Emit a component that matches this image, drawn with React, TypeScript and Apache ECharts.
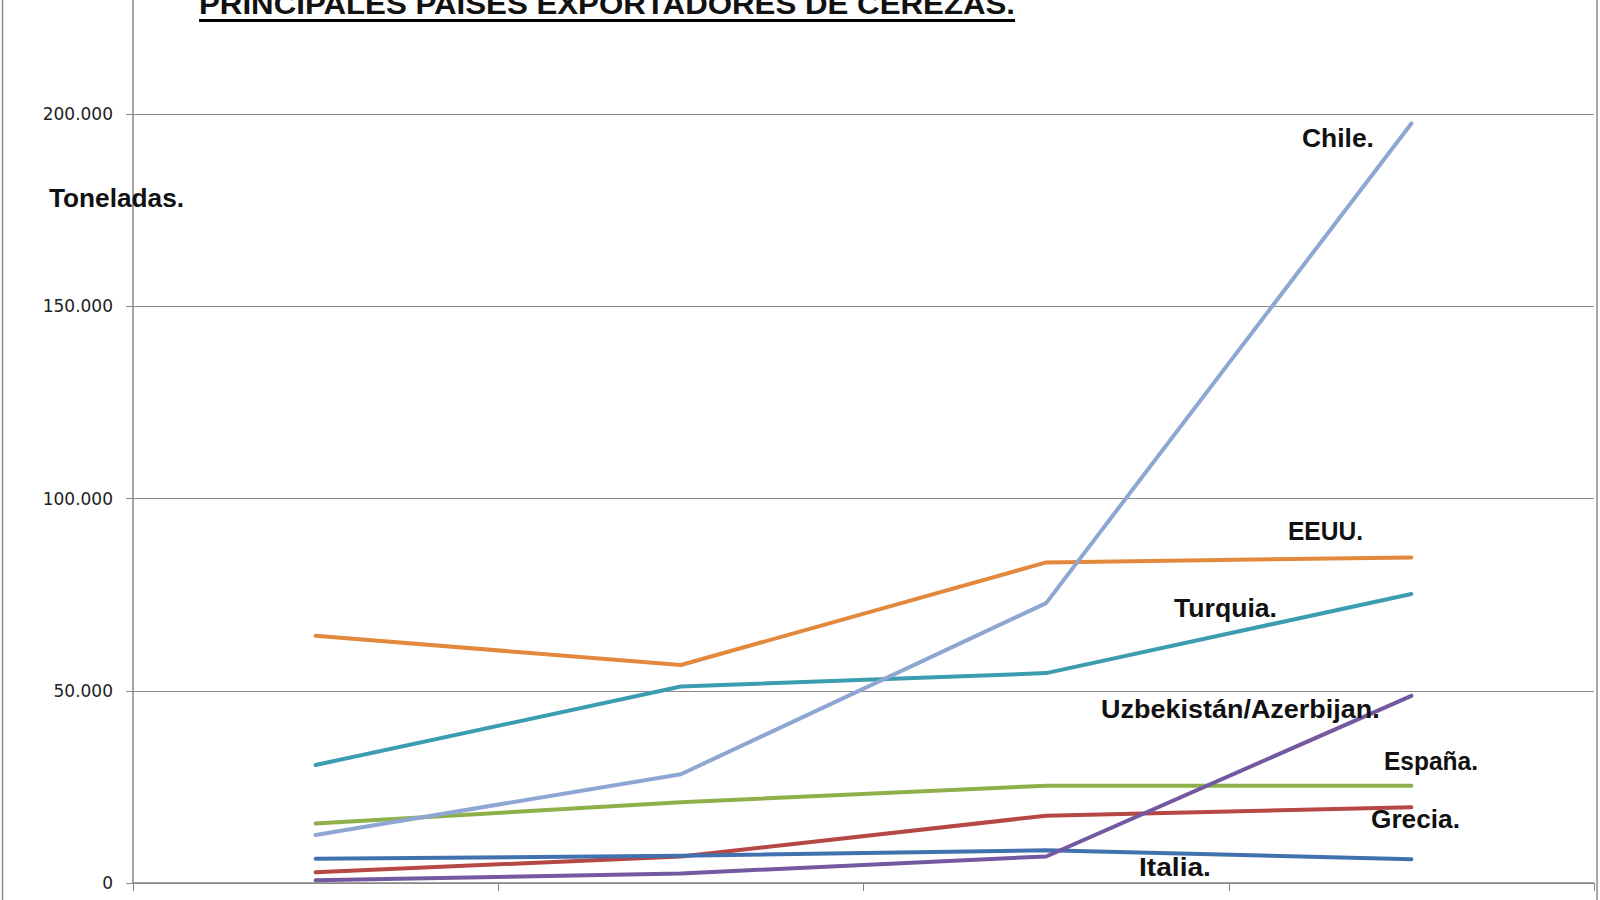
import React, { useEffect, useRef } from 'react';
import * as echarts from 'echarts';

// ---- Data ----
const categories = ['2008', '2009', '2010', '2011'];
const yTickValues = [0, 50000, 100000, 150000, 200000];

const chile = [12500, 28300, 72800, 197600];
const eeuu = [64300, 56700, 83400, 84700];
const turquia = [30700, 51100, 54600, 75200];
const espana = [15500, 21000, 25300, 25300];
const grecia = [2800, 6900, 17500, 19700];
const italia = [6300, 7100, 8500, 6200];
const uzbekistan = [700, 2500, 6900, 48700];

const seriesNames = ['EEUU.', 'Turquia.', 'España.', 'Grecia.', 'Italia.', 'Uzbekistán/Azerbijan.', 'Chile.'];
const seriesValues = [eeuu, turquia, espana, grecia, italia, uzbekistan, chile];
const seriesColors = ['#E3893D', '#3B9DAF', '#8DB04B', '#B54744', '#4271B0', '#7458A0', '#8EA7D2'];

const titleText = 'PRINCIPALES PAISES EXPORTADORES DE CEREZAS.';
const unitText = 'Toneladas.';

// ---- Annotation layout (page pixels): text, left, right, baseline, font size ----
const annotations: [string, number, number, number, number][] = [
  [unitText, 49, 184, 207, 25],
  ['Chile.', 1302, 1374, 147, 25],
  ['EEUU.', 1288, 1363, 540, 25],
  ['Turquia.', 1174, 1277, 617, 26],
  ['Uzbekistán/Azerbijan.', 1101, 1380, 718, 26],
  ['España.', 1384, 1478, 770, 25],
  ['Grecia.', 1371, 1460, 828, 25],
  ['Italia.', 1139, 1211, 876, 25],
];

const FONT = '"Liberation Sans", Arial, sans-serif';
// The chart's top (250.000) lies above the visible page; the container is shifted up by this much.
const OFFSET = 78;

function fmt(v: number): string {
  return String(v).replace(/\B(?=(\d{3})+(?!\d))/g, '.');
}

export default function App() {
  const ref = useRef<HTMLDivElement>(null);

  useEffect(() => {
    if (!ref.current) return;
    const chart = echarts.init(ref.current, null, { renderer: 'svg' });
    const ctx = document.createElement('canvas').getContext('2d')!;
    const measure = (text: string, size: number) => {
      ctx.font = `bold ${size}px ${FONT}`;
      return ctx.measureText(text).width || 1;
    };

    const textEl = (text: string, left: number, right: number, baseline: number, size: number) => ({
      type: 'text',
      x: left,
      y: baseline - 0.35 * size + OFFSET,
      scaleX: (right - left) / measure(text, size),
      silent: true,
      z: 100,
      style: {
        text,
        fill: '#111111',
        fontSize: size,
        fontWeight: 'bold',
        fontFamily: FONT,
        align: 'left',
        verticalAlign: 'middle',
      },
    });

    const graphic: any[] = [
      {
        type: 'rect',
        silent: true,
        z: 0,
        shape: { x: 2.5, y: -10, width: 1594.5, height: 1000 },
        style: { fill: 'none', stroke: '#8c8c8c', lineWidth: 1.5 },
      },
      textEl(titleText, 199, 1015, 13.5, 30),
      {
        type: 'line',
        silent: true,
        z: 100,
        shape: { x1: 199, y1: 20.5 + OFFSET, x2: 1015, y2: 20.5 + OFFSET },
        style: { stroke: '#000000', lineWidth: 3 },
      },
      ...annotations.map(([t, l, r, b, s]) => textEl(t, l, r, b, s)),
    ];

    chart.setOption({
      animation: false,
      backgroundColor: '#ffffff',
      grid: { left: 133, right: 6, top: 0, bottom: 17, containLabel: false },
      xAxis: {
        type: 'category',
        data: categories,
        boundaryGap: true,
        axisLine: { show: true, lineStyle: { color: '#868686', width: 1.5 } },
        axisTick: { show: true, length: 8, lineStyle: { color: '#868686', width: 1 } },
        axisLabel: { show: false },
        splitLine: { show: false },
      },
      yAxis: {
        type: 'value',
        min: 0,
        max: 250000,
        interval: 50000,
        axisLine: { show: true, lineStyle: { color: '#868686', width: 1.5 } },
        axisTick: { show: true, length: 7, lineStyle: { color: '#868686', width: 1 } },
        axisLabel: {
          margin: 20,
          color: '#222222',
          fontSize: 17,
          fontFamily: '"DejaVu Sans", sans-serif',
          formatter: (v: number) => (yTickValues.indexOf(v) >= 0 ? fmt(v) : ''),
        },
        splitLine: { show: true, lineStyle: { color: '#8a8a8a', width: 1.2 } },
      },
      series: seriesNames.map((name, i) => ({
        name,
        type: 'line',
        data: seriesValues[i],
        symbol: 'none',
        color: seriesColors[i],
        lineStyle: { color: seriesColors[i], width: 4, cap: 'round', join: 'round' },
        z: 2 + i,
      })),
      graphic,
    });

    return () => chart.dispose();
  }, []);

  return (
    <div
      ref={ref}
      style={{
        position: 'absolute',
        left: 0,
        top: -OFFSET,
        width: 1600,
        height: 900 + OFFSET,
        background: '#ffffff',
      }}
    />
  );
}
